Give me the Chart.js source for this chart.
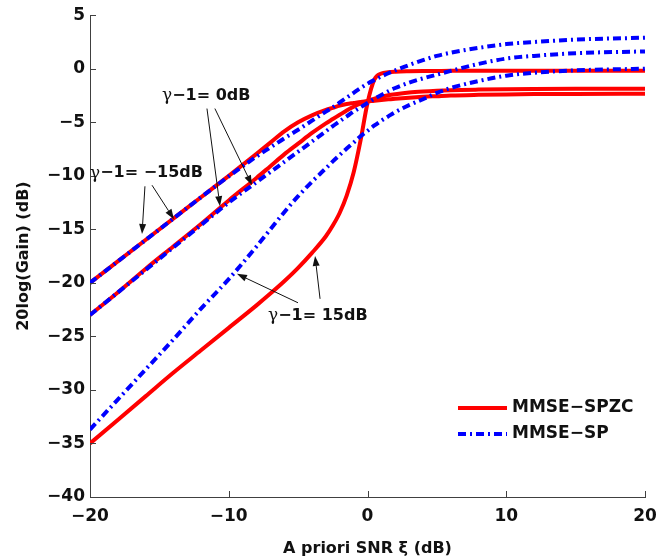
<!DOCTYPE html>
<html>
<head>
<meta charset="utf-8">
<script src="https://cdn.jsdelivr.net/npm/chart.js@4.4.0/dist/chart.umd.min.js"></script>
<style>
  html, body { margin: 0; padding: 0; background: #fff; }
</style>
</head>
<body>
<canvas id="chart" width="671" height="559"></canvas>
<script>
// a priori SNR grid (dB)
const xi = [-20, -18, -16, -14, -12, -10, -8, -7, -6, -5, -4, -3, -2.5, -2, -1.5, -1, -0.5,
            0, 0.5, 1, 1.5, 2, 3, 4, 5, 6, 8, 10, 12, 15, 20];

// MMSE-SPZC (red, solid), 20log(Gain) in dB
const spzcM15 = [-20, -18, -16, -14, -12, -10, -7.95, -6.9, -5.85, -5.0, -4.35, -3.85, -3.65, -3.45, -3.3, -3.2, -3.1,
                 -3.05, -2.98, -2.92, -2.86, -2.8, -2.7, -2.62, -2.56, -2.5, -2.44, -2.4, -2.37, -2.35, -2.33];
const spzc0   = [-23, -20.9, -18.7, -16.6, -14.5, -12.3, -10.2, -9.1, -8.0, -7.0, -6.0, -5.1, -4.7, -4.3, -3.9, -3.55, -3.25,
                 -3.0, -2.8, -2.62, -2.48, -2.38, -2.22, -2.12, -2.05, -2.0, -1.95, -1.92, -1.9, -1.88, -1.86];
const spzc15  = [-35, -32.8, -30.6, -28.4, -26.3, -24.2, -22.1, -21.0, -19.85, -18.6, -17.2, -15.65, -14.65, -13.45, -11.85, -9.7, -6.7,
                 -3.2, -1.0, -0.45, -0.33, -0.28, -0.24, -0.22, -0.21, -0.2, -0.2, -0.2, -0.2, -0.2, -0.2];

// MMSE-SP (blue, dash-dot)
const spM15 = [-20, -18, -16, -14, -12, -10.05, -8.2, -7.35, -6.5, -5.7, -4.85, -4.0, -3.6, -3.15, -2.7, -2.25, -1.8,
               -1.4, -1.05, -0.72, -0.42, -0.15, 0.35, 0.8, 1.2, 1.5, 1.95, 2.3, 2.5, 2.72, 2.9];
const sp0   = [-23, -20.9, -18.8, -16.7, -14.6, -12.5, -10.6, -9.65, -8.7, -7.75, -6.8, -5.85, -5.35, -4.9, -4.45, -4.0, -3.6,
               -3.2, -2.8, -2.45, -2.1, -1.8, -1.3, -0.9, -0.55, -0.2, 0.45, 0.95, 1.2, 1.45, 1.62];
const sp15  = [-33.7, -30.9, -28.1, -25.3, -22.4, -19.65, -16.6, -15.0, -13.4, -11.9, -10.55, -9.3, -8.65, -8.05, -7.45, -6.9, -6.3,
               -5.8, -5.3, -4.85, -4.45, -4.05, -3.4, -2.85, -2.25, -1.8, -1.15, -0.65, -0.38, -0.15, 0.0];

const seriesNames = ["MMSE\u2212SPZC", "MMSE\u2212SP"];

// annotation labels: text anchor (left, middle) and arrows [tailX, tailY, tipX, tipY] in data units
const notes = [
  { text: "\u22121= 0dB", x: -14.81, y: -2.51,
    arrows: [[-11.57, -3.72, -10.63, -12.84], [-11.0, -3.72, -8.32, -10.88]] },
  { text: "\u22121= \u221215dB", x: -20, y: -9.77,
    arrows: [[-16.04, -10.98, -16.25, -15.44], [-15.53, -10.88, -13.95, -14.05]] },
  { text: "\u22121= 15dB", x: -7.17, y: -23.07,
    arrows: [[-5.01, -21.86, -9.41, -19.16], [-3.42, -21.49, -3.78, -17.49]] }
];

const FONT = "'DejaVu Sans', 'Liberation Sans', sans-serif";
const RED = "#ff0000";
const BLUE = "#0000ff";
const DASHDOT = [8, 4, 2, 4];

const pts = ys => xi.map((x, i) => ({ x: x, y: ys[i] }));
const fmt = v => v < 0 ? "\u2212" + Math.abs(v) : String(v);

// blue is drawn over red where they overlap
function redLine(ys) {
  return { data: pts(ys), borderColor: RED, borderWidth: 4, pointRadius: 0,
           cubicInterpolationMode: "monotone", order: 1 };
}
function blueLine(ys) {
  return { data: pts(ys), borderColor: BLUE, borderWidth: 4, borderDash: DASHDOT, pointRadius: 0,
           cubicInterpolationMode: "monotone", order: 0 };
}

function arrow(ctx, x0, y0, x1, y1) {
  const ang = Math.atan2(y1 - y0, x1 - x0);
  const len = 10, half = 3.5;
  const bx = x1 - len * Math.cos(ang), by = y1 - len * Math.sin(ang);
  ctx.beginPath();
  ctx.moveTo(x0, y0);
  ctx.lineTo(bx, by);
  ctx.stroke();
  ctx.beginPath();
  ctx.moveTo(x1, y1);
  ctx.lineTo(bx + half * Math.sin(ang), by - half * Math.cos(ang));
  ctx.lineTo(bx - half * Math.sin(ang), by + half * Math.cos(ang));
  ctx.closePath();
  ctx.fill();
}

const extras = {
  id: "extras",
  afterDraw(chart) {
    const { ctx, chartArea: a, scales: { x, y } } = chart;
    ctx.save();

    // inward tick marks, matlab style
    ctx.strokeStyle = "#404040";
    ctx.lineWidth = 1;
    ctx.beginPath();
    x.ticks.forEach(t => {
      const px = Math.round(x.getPixelForValue(t.value)) + 0.5;
      ctx.moveTo(px, a.bottom);
      ctx.lineTo(px, a.bottom - 6);
    });
    y.ticks.forEach(t => {
      const py = Math.round(y.getPixelForValue(t.value)) + 0.5;
      ctx.moveTo(a.left, py);
      ctx.lineTo(a.left + 6, py);
    });
    ctx.stroke();

    // annotations
    ctx.fillStyle = "#111";
    ctx.strokeStyle = "#111";
    ctx.textBaseline = "middle";
    notes.forEach(n => {
      const px = x.getPixelForValue(n.x), py = y.getPixelForValue(n.y);
      ctx.font = "17px 'DejaVu Serif', serif";
      ctx.textAlign = "left";
      ctx.fillText("\u03b3", px, py);
      const w = ctx.measureText("\u03b3").width;
      ctx.font = "bold 16px " + FONT;
      ctx.fillText(n.text, px + w, py);
      n.arrows.forEach(r => arrow(ctx,
        x.getPixelForValue(r[0]), y.getPixelForValue(r[1]),
        x.getPixelForValue(r[2]), y.getPixelForValue(r[3])));
    });

    // legend, lower right inside the axes
    const lx0 = a.right - 187, lx1 = a.right - 138, tx = a.right - 133;
    const rows = [a.bottom - 89, a.bottom - 63];
    ctx.lineWidth = 4;
    ctx.strokeStyle = RED;
    ctx.setLineDash([]);
    ctx.beginPath(); ctx.moveTo(lx0, rows[0]); ctx.lineTo(lx1, rows[0]); ctx.stroke();
    ctx.strokeStyle = BLUE;
    ctx.setLineDash(DASHDOT);
    ctx.beginPath(); ctx.moveTo(lx0, rows[1]); ctx.lineTo(lx1, rows[1]); ctx.stroke();
    ctx.setLineDash([]);
    ctx.fillStyle = "#111";
    ctx.font = "bold 17px " + FONT;
    ctx.fillText(seriesNames[0], tx, rows[0]);
    ctx.fillText(seriesNames[1], tx, rows[1]);

    ctx.restore();
  }
};

new Chart(document.getElementById("chart"), {
  type: "line",
  data: {
    datasets: [
      redLine(spzcM15), redLine(spzc0), redLine(spzc15),
      blueLine(spM15), blueLine(sp0), blueLine(sp15)
    ]
  },
  options: {
    responsive: false,
    animation: false,
    layout: { padding: { top: 13, right: 26, bottom: 0, left: 0 } },
    plugins: { legend: { display: false }, tooltip: { enabled: false } },
    scales: {
      x: {
        type: "linear", min: -20, max: 20,
        ticks: { stepSize: 10, callback: fmt, color: "#111", padding: 9, maxRotation: 0,
                 font: { family: FONT, size: 17, weight: "bold" } },
        grid: { display: false, drawTicks: false },
        border: { display: true, color: "#404040", width: 1 },
        title: { display: true, text: "A priori SNR \u03be (dB)", color: "#111",
                 padding: { top: 0, bottom: 1 }, font: { family: FONT, size: 16, weight: "bold" } },
        afterFit: s => { s.height = 62; }
      },
      y: {
        type: "linear", min: -40, max: 5,
        ticks: { stepSize: 5, callback: fmt, color: "#111", padding: 5,
                 font: { family: FONT, size: 17, weight: "bold" } },
        grid: { display: false, drawTicks: false },
        border: { display: true, color: "#404040", width: 1 },
        title: { display: true, text: "20log(Gain) (dB)", color: "#111",
                 padding: { top: 14, bottom: 0 }, font: { family: FONT, size: 16, weight: "bold" } },
        afterFit: s => { s.width = 90; }
      }
    }
  },
  plugins: [extras]
});
</script>
</body>
</html>
